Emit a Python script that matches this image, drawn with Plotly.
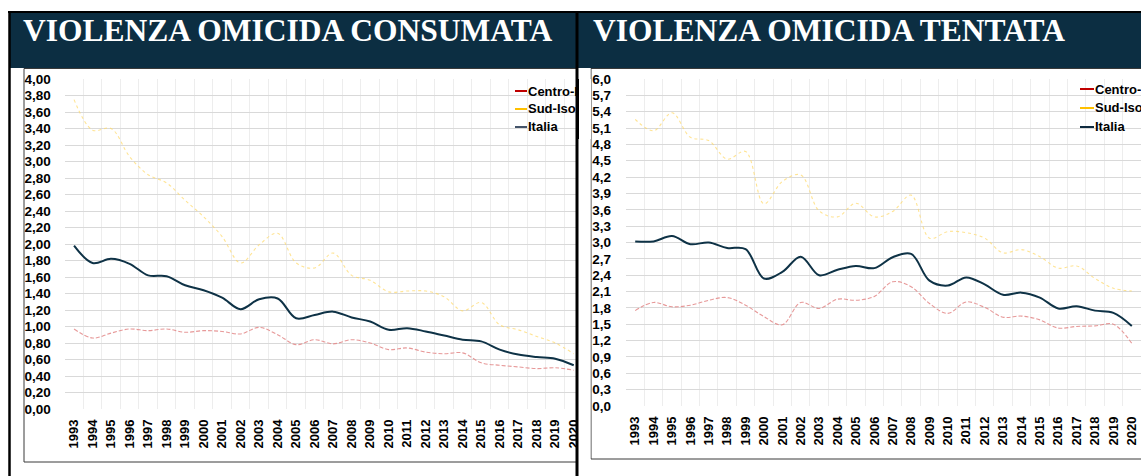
import plotly.graph_objects as go

W, H = 1141, 476

years = list(range(1993, 2021))

# VIOLENZA OMICIDA CONSUMATA
cons_centro = [0.97, 0.86, 0.92, 0.97, 0.95, 0.97, 0.93, 0.95, 0.94, 0.91, 0.99, 0.90, 0.78, 0.84,
               0.79, 0.84, 0.80, 0.72, 0.74, 0.69, 0.67, 0.68, 0.56, 0.53, 0.51, 0.49, 0.50, 0.47]
cons_sud = [3.75, 3.38, 3.40, 3.06, 2.84, 2.74, 2.53, 2.33, 2.09, 1.77, 1.99, 2.13, 1.77, 1.71,
            1.89, 1.62, 1.56, 1.42, 1.43, 1.43, 1.36, 1.19, 1.29, 1.02, 0.96, 0.88, 0.80, 0.67]
cons_italia = [1.98, 1.77, 1.82, 1.76, 1.62, 1.61, 1.50, 1.44, 1.35, 1.21, 1.33, 1.34, 1.10, 1.14,
               1.18, 1.11, 1.06, 0.96, 0.98, 0.94, 0.89, 0.84, 0.82, 0.72, 0.66, 0.63, 0.61, 0.53]

# VIOLENZA OMICIDA TENTATA
tent_centro = [1.75, 1.90, 1.82, 1.85, 1.94, 1.99, 1.85, 1.64, 1.49, 1.90, 1.79, 1.96, 1.94, 2.01,
               2.28, 2.19, 1.88, 1.70, 1.91, 1.81, 1.63, 1.65, 1.58, 1.43, 1.46, 1.47, 1.50, 1.15]
tent_sud = [5.26, 5.05, 5.38, 4.93, 4.87, 4.53, 4.67, 3.71, 4.12, 4.24, 3.58, 3.47, 3.72, 3.47,
            3.57, 3.87, 3.08, 3.20, 3.18, 3.08, 2.81, 2.87, 2.74, 2.53, 2.57, 2.34, 2.16, 2.11]
tent_italia = [3.02, 3.02, 3.12, 2.97, 3.00, 2.90, 2.88, 2.34, 2.46, 2.74, 2.40, 2.50, 2.57, 2.53,
               2.73, 2.79, 2.30, 2.21, 2.36, 2.23, 2.04, 2.08, 1.99, 1.79, 1.83, 1.75, 1.71, 1.47]

series_names = ["Centro-Nord", "Sud-Isole", "Italia"]
legend_left_labels = ["Centro-N", "Sud-Isole", "Italia"]
titles = ["VIOLENZA OMICIDA CONSUMATA", "VIOLENZA OMICIDA TENTATA"]

cons_ticks = [round(0.2 * i, 2) for i in range(21)]
tent_ticks = [round(0.3 * i, 1) for i in range(21)]

RED = "#E58E8E"
YEL = "#FFD966"
NAVY = "#0E3246"
HEAD = "#0C2E42"


def X(px):
    return px / W


def Y(py):
    return 1 - py / H


fig = go.Figure()

for xa, ya, data in [("x", "y", (cons_centro, cons_sud, cons_italia)),
                     ("x2", "y2", (tent_centro, tent_sud, tent_italia))]:
    c, s, it = data
    fig.add_trace(go.Scatter(x=years, y=c, name=series_names[0], xaxis=xa, yaxis=ya, mode="lines",
                             line=dict(color=RED, width=1.1, dash="4px,2px", shape="spline", smoothing=1.0),
                             opacity=0.9, showlegend=False))
    fig.add_trace(go.Scatter(x=years, y=s, name=series_names[1], xaxis=xa, yaxis=ya, mode="lines",
                             line=dict(color=YEL, width=1.1, dash="dot", shape="spline", smoothing=1.0),
                             opacity=0.7, showlegend=False))
    fig.add_trace(go.Scatter(x=years, y=it, name=series_names[2], xaxis=xa, yaxis=ya, mode="lines",
                             line=dict(color=NAVY, width=2, shape="spline", smoothing=1.0),
                             showlegend=False))

xtickfont = dict(family="Liberation Sans", size=13, color="#000000", weight="bold")
ytickfont = dict(family="Liberation Sans", size=13.5, color="#000000", weight="bold")

xcommon = dict(range=[1992.5, 2020.5], tickmode="array", tickvals=years, ticktext=[str(y) for y in years],
               tickangle=-90, tickfont=xtickfont, showgrid=False, zeroline=False, showline=False,
               ticks="", ticklabelstandoff=7, automargin=False,
               minor=dict(tickmode="array", tickvals=[1992.5 + i for i in range(29)], showgrid=True,
                          gridcolor="#EDEDED", gridwidth=1, ticks=""))

fig.update_layout(
    width=W, height=H, autosize=False,
    margin=dict(l=0, r=0, t=0, b=0, pad=0, autoexpand=False),
    paper_bgcolor="white", plot_bgcolor="white",
    separators=",.",
    showlegend=False,
    xaxis=dict(domain=[X(64.8), X(583)], anchor="y", **xcommon),
    yaxis=dict(domain=[Y(409), Y(79)], range=[0, 4.0], tickmode="array", tickvals=cons_ticks,
               tickformat=".2f", tickfont=ytickfont, showgrid=True, gridcolor="#D9D9D9", gridwidth=1,
               zeroline=False, ticks="", ticklabelstandoff=13, anchor="x", automargin=False),
    xaxis2=dict(domain=[X(626), 1.0], anchor="y2", **xcommon),
    yaxis2=dict(domain=[Y(406), Y(79)], range=[0, 6.0], tickmode="array", tickvals=tent_ticks,
                tickformat=".1f", tickfont=ytickfont, showgrid=True, gridcolor="#D9D9D9", gridwidth=1,
                zeroline=False, ticks="", ticklabelstandoff=14, anchor="x2", automargin=False),
)

shapes = []
# headers
shapes.append(dict(type="rect", xref="paper", yref="paper", x0=X(9), x1=X(577), y0=Y(68), y1=Y(12),
                   fillcolor=HEAD, line=dict(width=0), layer="above"))
shapes.append(dict(type="rect", xref="paper", yref="paper", x0=X(577), x1=X(1141), y0=Y(68), y1=Y(12),
                   fillcolor=HEAD, line=dict(width=0), layer="above"))
shapes.append(dict(type="line", xref="paper", yref="paper", x0=X(8), x1=X(1141), y0=Y(12), y1=Y(12),
                   line=dict(color="#000000", width=2), layer="above"))
# chart frames
shapes.append(dict(type="rect", xref="paper", yref="paper", x0=X(24), x1=X(577), y0=Y(462), y1=Y(68.5),
                   line=dict(color="#3A3A3A", width=1), layer="above"))
shapes.append(dict(type="rect", xref="paper", yref="paper", x0=X(591), x1=X(1150), y0=Y(459), y1=Y(68.5),
                   line=dict(color="#3A3A3A", width=1), layer="above"))
# white gap between panels (clips left plot)
shapes.append(dict(type="rect", xref="paper", yref="paper", x0=X(578), x1=X(590.5), y0=Y(476), y1=Y(69),
                   fillcolor="white", line=dict(width=0), layer="above"))
# outer vertical black lines
shapes.append(dict(type="line", xref="paper", yref="paper", x0=X(9.5), x1=X(9.5), y0=Y(476), y1=Y(12),
                   line=dict(color="#000000", width=2.5), layer="above"))
shapes.append(dict(type="line", xref="paper", yref="paper", x0=X(577), x1=X(577), y0=Y(476), y1=Y(12),
                   line=dict(color="#000000", width=3), layer="above"))

# legend samples
leg_cols_left = ["#C00000", "#FFC000", "#44546A"]
leg_cols_right = ["#C00000", "#FFC000", "#0E2A3F"]
for (lx0, lx1, rows, cols) in [(515, 527, [91, 109, 127], leg_cols_left),
                               (1080, 1094, [89, 108, 127], leg_cols_right)]:
    for col, ry in zip(cols, rows):
        shapes.append(dict(type="line", xref="paper", yref="paper", x0=X(lx0), x1=X(lx1), y0=Y(ry), y1=Y(ry),
                           line=dict(color=col, width=2), layer="above"))
fig.update_layout(shapes=shapes)

legfont = dict(family="Liberation Sans", size=13, color="#000000", weight="bold")
annotations = []
annotations.append(dict(text=titles[0], xref="paper", yref="paper", x=X(21), y=Y(31), xanchor="left",
                        yanchor="middle", showarrow=False,
                        font=dict(family="Liberation Serif", size=31.5, color="white", weight="bold")))
annotations.append(dict(text=titles[1], xref="paper", yref="paper", x=X(591), y=Y(31), xanchor="left",
                        yanchor="middle", showarrow=False,
                        font=dict(family="Liberation Serif", size=31.5, color="white", weight="bold")))
for lab, ry in zip(legend_left_labels, [91, 109, 127]):
    annotations.append(dict(text=lab, xref="paper", yref="paper", x=X(527), y=Y(ry), xanchor="left",
                            yanchor="middle", showarrow=False, font=legfont, borderpad=0))
for lab, ry in zip(series_names, [89, 108, 127]):
    annotations.append(dict(text=lab, xref="paper", yref="paper", x=X(1094), y=Y(ry), xanchor="left",
                            yanchor="middle", showarrow=False, font=legfont, borderpad=0))
# covers that clip the left legend at the panel border
annotations.append(dict(text=" ", xref="paper", yref="paper", x=X(578.5), y=Y(109), xanchor="left",
                        yanchor="middle", showarrow=False, width=12, height=60, bgcolor="white",
                        borderpad=0, borderwidth=0))
annotations.append(dict(text=" ", xref="paper", yref="paper", x=X(575.5), y=Y(109), xanchor="left",
                        yanchor="middle", showarrow=False, width=3, height=60, bgcolor="black",
                        borderpad=0, borderwidth=0))
fig.update_layout(annotations=annotations)

fig.write_html("out.html", config={"displayModeBar": False},
               post_script="document.body.style.margin='0';document.body.style.overflow='hidden';")
